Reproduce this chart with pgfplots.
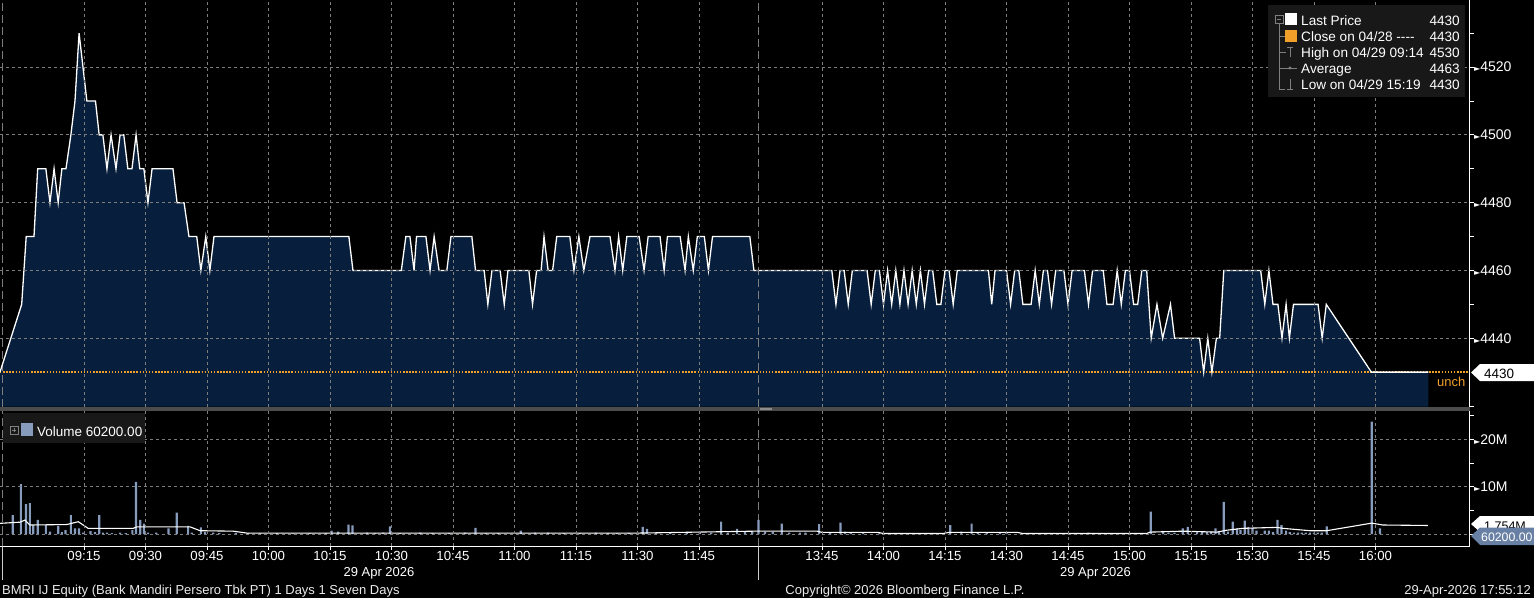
\documentclass[border=0pt]{standalone}
\usepackage{fontspec}
\setmainfont{Liberation Sans}
\newfontfamily\sym{DejaVu Sans}
\usepackage{pgfplots}
\usepackage{pgfplotstable}
\pgfplotsset{compat=1.18}
\definecolor{navy}{RGB}{7,31,60}
\definecolor{volbar}{RGB}{135,155,188}
\definecolor{gridc}{RGB}{125,125,125}
\definecolor{legbg}{RGB}{24,24,24}
\definecolor{bbor}{RGB}{240,160,40}
\definecolor{volbox}{RGB}{105,128,165}
\newcommand\bb{\fontsize{13.2}{15}\selectfont}
\newcommand\tri{{\sym\fontsize{8}{8}\selectfont ►}}

% price, t = trading minutes from 09:00 (lunch break removed)
\pgfplotstableread{
t p
-5.5 4430
-0.2 4450
0.9 4470
2.8 4470
3.7 4490
5.7 4490
6.7 4480
7.7 4490
8.7 4480
9.6 4490
10.6 4490
11.8 4500
12.8 4510
13.8 4530
15.7 4510
17.8 4510
18.7 4500
19.6 4500
20.6 4490
21.6 4500
22.8 4490
23.8 4500
24.7 4500
25.7 4490
26.7 4490
27.7 4500
28.6 4490
29.6 4490
30.6 4480
31.6 4490
36.7 4490
37.7 4480
39.4 4480
40.6 4470
42.5 4470
43.5 4460
44.7 4470
45.7 4460
46.7 4470
79.6 4470
80.6 4460
92.4 4460
93.5 4470
94.5 4470
95.5 4460
96.1 4470
98.4 4470
99.4 4460
100.4 4470
101.6 4460
103.5 4460
104.5 4470
109.6 4470
110.5 4460
112.6 4460
113.5 4450
114.5 4460
116.5 4460
117.5 4450
118.4 4460
123.5 4460
124.4 4450
125.4 4460
126.5 4460
127.2 4470
128.2 4460
129.3 4460
130.3 4470
133.5 4470
134.5 4460
135.7 4470
136.9 4460
138.4 4470
143.3 4470
144.5 4460
145.4 4470
146.4 4460
147.4 4470
150.4 4470
151.6 4460
152.6 4470
155.5 4470
156.5 4460
157.3 4470
160.4 4470
161.6 4460
162.4 4470
163.6 4460
164.6 4470
166.3 4470
167.3 4460
168.3 4470
177.4 4470
178.4 4460
197.4 4460
198.4 4450
199.4 4460
200.4 4460
201.4 4450
202.4 4460
206 4460
207 4450
208 4460
209 4460
210 4450
211 4460
212 4450
213 4460
214 4450
215 4460
216 4450
217 4460
218 4450
219 4460
220 4450
221 4460
222 4460
223 4450
224 4450
225 4460
226 4460
227 4450
228 4460
235.6 4460
236.4 4450
237.2 4460
240 4460
241 4450
242 4460
243 4460
244 4450
246 4450
247 4460
248 4450
249 4460
250 4460
251 4450
252 4460
254 4460
255 4450
256 4460
259 4460
260 4450
261 4460
263.6 4460
264.5 4450
266 4450
267 4460
268 4450
269 4460
270 4460
271 4450
272 4450
273 4460
274.2 4460
275.3 4440
276.7 4450
278.1 4440
280 4450
281 4440
287.1 4440
288.1 4430
289.1 4440
290.1 4430
291.2 4440
292 4440
293 4460
302 4460
303 4450
304 4460
305 4450
306.2 4450
307.2 4440
308.2 4450
309 4440
310 4450
316 4450
317 4440
318 4450
329 4430
342.9 4430
}\price

% volume in millions
\pgfplotstableread{
t v
-2.4 4.0
-0.4 10.5
0.85 6.3
1.8 6.5
2.6 1.8
3.7 3.0
5.7 1.9
6.7 0.5
8.7 1.7
9.6 0.4
10.5 0.8
11.8 4.0
12.8 1.2
13.8 1.2
14.8 0.3
16.6 0.6
17.7 0.4
18.7 4.0
19.6 0.3
20.6 0.3
21.8 0.2
23.8 0.3
25.2 0.2
26.8 0.8
27.7 11.0
28.7 3.0
29.6 2.2
30.6 0.3
32.6 0.3
35.6 1.2
37.6 4.5
40.4 1.7
41.3 0.3
43.5 1.4
44.5 0.4
46.5 0.3
48 0.2
52 0.25
55 0.2
58 0.15
62 0.2
66 0.15
70 0.2
74 0.2
75.4 0.7
77 0.5
79.5 2.0
80.5 1.8
84 0.3
86 0.2
88 0.3
89.6 1.6
92 0.2
97 0.3
100 0.2
104 0.2
108 0.3
110.5 1.3
113 0.2
116 0.2
121.5 0.7
125 0.3
128.2 0.3
132 0.2
136 0.2
139.9 0.3
142.8 0.2
145 0.2
148 0.25
151.3 1.5
152.3 1.1
154.5 0.3
158 0.2
162 0.3
165.2 0.3
168 0.3
170.4 2.6
172 0.3
174.3 1.1
176.2 0.4
178 0.5
179.5 3.0
181.1 0.5
183 0.4
185.2 2.2
187 0.3
189.6 0.3
191 0.3
194.3 2.1
197 0.4
199.5 2.4
200.6 0.5
202 0.3
205 0.2
209 0.3
212 0.2
214 0.2
218 0.2
222 0.2
226.3 1.9
229 0.5
231.5 2.2
233 0.3
235.2 0.4
238.4 0.3
240 0.2
245.7 0.2
250 0.2
255 0.15
260 0.3
265 0.2
270 0.15
275.2 4.7
278.2 0.4
279.5 0.3
281 0.3
283 1.2
284.2 1.5
286.5 0.4
287.7 0.5
288.9 0.4
289.9 0.5
291 1.2
291.8 0.4
293 6.8
294 0.5
295.2 2.6
296.2 1.2
297.1 0.9
298.1 2.8
299 1.5
300 1.3
301 0.7
303 0.7
304 0.7
305 0.4
306.1 3.0
307.1 1.9
308.2 0.7
309.1 0.4
310.1 0.3
311.1 0.3
312 0.3
313 0.3
314 0.3
315 0.3
315.9 0.3
316.9 0.3
318.1 1.6
329.1 23.7
331.1 1.2
}\vol

% volume moving average, millions
\pgfplotstableread{
t m
-5.5 2.25
-0.6 2.5
0.6 2.95
1.8 1.9
10.8 2.0
13.6 2.6
16 1.2
27 1.2
27.9 1.5
40.9 1.5
43.3 0.7
51.4 0.6
54.7 0.2
150.4 0.2
178.4 0.6
193.8 0.6
195 0.35
208.7 0.35
210 0.1
224.5 0.1
226 0.35
242.6 0.35
244 0.1
274.2 0.1
275 0.4
283 0.6
291.3 0.4
293.7 0.8
297.7 1.2
305.9 1.4
307.4 1.2
314 0.7
318.1 0.7
329.1 2.3
331.8 1.9
342.8 1.8
}\ma

\pgfplotsset{bbg/.style={
  scale only axis, width=1470pt,
  xmin=-5.49, xmax=353.05,
  xtick={15,30,45,60,75,90,105,120,135,150,165,195,210,225,240,255,270,285,300,315,330},
  xmajorgrids, ymajorgrids,
  grid style={gridc, dash pattern=on 3pt off 3pt, line width=0.8pt},
  axis x line*=bottom, axis y line*=right,
  tick align=outside, major tick length=4pt, minor tick length=4pt,
  every tick label/.append style={font=\bb, text=white},
  /pgf/number format/assume math mode=true,
  y tick style={white, line width=0.8pt},
  y axis line style={white, line width=1pt},
  yticklabel style={anchor=west, inner sep=0pt, font=\fontsize{14}{16}\selectfont},
  axis on top,
}}

\begin{document}
\begin{tikzpicture}
\useasboundingbox (0pt,0pt) rectangle (1534pt,-598pt);
\fill[black] (0pt,0pt) rectangle (1534pt,-598pt);

% price panel
\begin{axis}[bbg, at={(0pt,-406.7pt)}, anchor=south west, height=406.7pt,
  ymin=4419.8, ymax=4539.8,
  x axis line style={draw=none}, xticklabels={}, x tick style={draw=none},
  ytick={4440,4460,4480,4500,4520},
  minor ytick={4420,4450,4470,4490,4510,4530},
  yticklabel={\tri\pgfmathprintnumber[1000 sep={}]{\tick}},
]
\addplot[fill=navy, draw=none] table {\price} \closedcycle;
\addplot[bbor, line width=1.4pt, dash pattern=on 1.5pt off 1.6pt] coordinates {(-5.49,4430) (353.05,4430)};
\addplot[gridc, line width=0.8pt, dash pattern=on 8pt off 4pt] coordinates {(-4.9,4419.8) (-4.9,4539.8)};
\addplot[gridc, line width=0.8pt, dash pattern=on 8pt off 4pt] coordinates {(179.4,4419.8) (179.4,4539.8)};
\addplot[white, line width=1.3pt] table {\price};
\end{axis}

% volume panel
\begin{axis}[bbg, at={(0pt,-546pt)}, anchor=south west, height=136pt,
  ymin=-2.53, ymax=26.16,
  x axis line style={white, line width=1pt},
  x tick style={white, line width=0.8pt},
  xticklabels={09:15,09:30,09:45,10:00,10:15,10:30,10:45,11:00,11:15,11:30,11:45,13:45,14:00,14:15,14:30,14:45,15:00,15:15,15:30,15:45,16:00},
  xticklabel style={anchor=north, inner sep=0pt, yshift=-1pt},
  ytick={0,10,20}, yticklabels={,\tri10M,\tri20M},
  minor ytick={5,15,25},
]
\addplot[gridc, line width=0.8pt, dash pattern=on 8pt off 4pt] coordinates {(-4.9,-2.53) (-4.9,26.16)};
\addplot[gridc, line width=0.8pt, dash pattern=on 8pt off 4pt] coordinates {(179.4,-2.53) (179.4,26.16)};
\addplot[ybar, bar width=2.2pt, fill=volbar, draw=none] table {\vol};
\addplot[white, line width=1.1pt] table {\ma};
\end{axis}

\begin{scope}[x=1pt, y=1pt]
% separator between panels
\fill[black!70] (0,-406.7) rectangle (1470,-410.5);
\fill[black!45] (760,-407.5) rectangle (772,-409.7);
% price legend
\fill[legbg] (1268,-5) rectangle (1465,-97);
\draw[gray, line width=0.7pt] (1275,-15) rectangle (1283,-23);
\draw[gray, line width=0.7pt] (1277,-19) -- (1281,-19);
\draw[gray, line width=0.7pt] (1279,-23) -- (1279,-89) -- (1285,-89);
\draw[gray, line width=0.7pt] (1279,-36) -- (1285,-36);
\draw[gray, line width=0.7pt] (1279,-52) -- (1286,-52);
\draw[gray, line width=0.7pt] (1279,-68) -- (1297,-68);
\fill[gray] (1290,-68) circle (1.6);
\fill[white] (1285,-13) rectangle (1297,-25);
\fill[bbor] (1285,-30) rectangle (1297,-42);
\draw[gray, line width=0.8pt] (1287,-47) -- (1293,-47) (1290,-47) -- (1290,-57);
\draw[gray, line width=0.8pt] (1287,-89) -- (1293,-89) (1290,-79) -- (1290,-89);
\begin{scope}[every node/.style={text=white, inner sep=0pt, font=\fontsize{13.6}{15}\selectfont}]
\node[anchor=base west] at (1301,-25) {Last Price};
\node[anchor=base west] at (1301,-41) {Close on 04/28 {-}{-}{-}{-}};
\node[anchor=base west] at (1301,-57) {High on 04/29 09:14};
\node[anchor=base west] at (1301,-73) {Average};
\node[anchor=base west] at (1301,-89) {Low on 04/29 15:19};
\node[anchor=base east] at (1460,-25) {4430};
\node[anchor=base east] at (1460,-41) {4430};
\node[anchor=base east] at (1460,-57) {4530};
\node[anchor=base east] at (1460,-73) {4463};
\node[anchor=base east] at (1460,-89) {4430};
\end{scope}
% last price label
\fill[white] (1471,-372.5) -- (1480,-364) -- (1534,-364) -- (1534,-381) -- (1480,-381) -- cycle;
\node[anchor=base west, inner sep=0pt, text=black, font=\fontsize{13.5}{15}\selectfont] at (1484,-378) {4430};
\node[anchor=base west, inner sep=0pt, text=bbor, font=\fontsize{13}{15}\selectfont] at (1437,-386) {unch};
% volume legend
\fill[legbg] (3,-413) rectangle (145,-443);
\draw[gray, line width=0.7pt] (10,-426) rectangle (18,-434) (12,-430) -- (16,-430) (14,-428) -- (14,-432);
\fill[volbar] (21,-423) rectangle (33,-436);
\node[anchor=base west, inner sep=0pt, text=white, font=\fontsize{13.5}{15}\selectfont] at (37,-436) {Volume 60200.00};
% volume last labels
\fill[white] (1471,-524) -- (1480,-516) -- (1534,-516) -- (1534,-532) -- (1480,-532) -- cycle;
\node[anchor=base west, inner sep=0pt, text=black, font=\fontsize{12.5}{14}\selectfont] at (1484,-530) {1.754M};
\fill[volbox] (1471,-536) -- (1480,-527.5) -- (1534,-527.5) -- (1534,-545) -- (1480,-545) -- cycle;
\node[anchor=base west, inner sep=0pt, text=white, font=\fontsize{12.3}{14}\selectfont] at (1481,-541) {60200.00};
% session separators in label area
\draw[white!80!black, line width=0.8pt] (2.5,-546) -- (2.5,-580);
\draw[white!80!black, line width=0.8pt] (758.5,-546) -- (758.5,-580);
% dates and footer
\begin{scope}[every node/.style={text=white, inner sep=0pt, font=\fontsize{13}{15}\selectfont}]
\node[anchor=base] at (379,-576.7) {29 Apr 2026};
\node[anchor=base] at (1095.5,-576.7) {29 Apr 2026};
\end{scope}
\begin{scope}[every node/.style={text=white!92!black, inner sep=0pt, font=\fontsize{13}{14}\selectfont}]
\node[anchor=base west] at (2,-594) {BMRI IJ Equity (Bank Mandiri Persero Tbk PT) 1 Days 1 Seven Days};
\node[anchor=base] at (905,-594) {Copyright© 2026 Bloomberg Finance L.P.};
\node[anchor=base east] at (1531,-594) {29-Apr-2026 17:55:12};
\end{scope}
\end{scope}
\end{tikzpicture}
\end{document}
